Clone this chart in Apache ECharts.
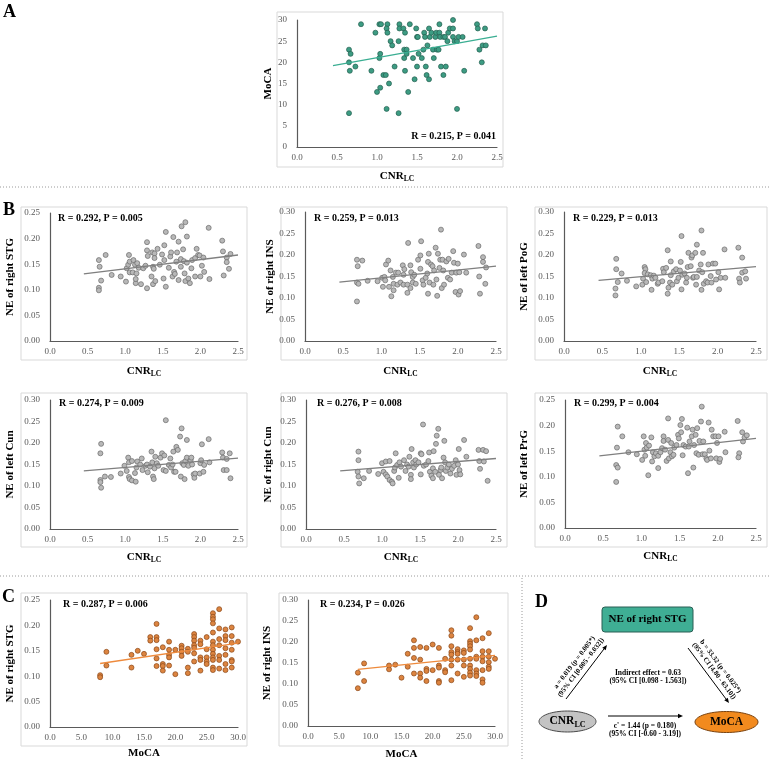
<!DOCTYPE html>
<html>
<head>
<meta charset="utf-8">
<script src="https://cdn.jsdelivr.net/npm/echarts@6/dist/echarts.min.js"></script>
<style>
html, body { margin: 0; padding: 0; background: #fff; }
#chart { width: 770px; height: 761px; }
</style>
</head>
<body>
<div id="chart"></div>
<script>
// ---- data ----
// A: CNR_LC vs MoCA
const ptsA = [[0.65,23],[0.67,22],[0.65,20],[0.66,18],[0.73,19],[0.65,8],[0.80,29],[0.93,18],[0.98,27],[1.00,13],
  [1.04,14],[1.03,29],[1.05,29],[1.03,21],[1.04,22],[1.08,17],[1.11,17],[1.12,9],[1.13,29],[1.12,28],
  [1.13,27],[1.15,15],[1.17,25],[1.19,24],[1.22,19],[1.27,25],[1.28,29],[1.28,28],[1.27,8],[1.33,28],
  [1.35,27],[1.34,21],[1.35,18],[1.34,23],[1.37,23],[1.37,22],[1.39,13],[1.41,29],[1.45,21],[1.47,16],
  [1.49,28],[1.50,26],[1.51,26],[1.52,22],[1.50,19],[1.56,21],[1.58,23],[1.59,27],[1.60,26],[1.61,19],
  [1.62,17],[1.63,24],[1.65,28],[1.65,16],[1.66,26],[1.68,27],[1.70,23],[1.71,21],[1.73,26],[1.74,27],
  [1.75,23],[1.77,23],[1.78,29],[1.78,27],[1.79,26],[1.80,19],[1.83,17],[1.83,26],[1.85,26],[1.86,19],
  [1.88,25],[1.89,27],[1.91,28],[1.95,28],[1.95,30],[1.95,26],[1.97,25],[2.00,25],[2.00,9],[2.02,26],
  [2.07,26],[2.09,18],[2.25,29],[2.26,28],[2.28,23],[2.31,20],[2.32,24],[2.35,28],[2.36,24]];
const trendA = [[0.45,19.2],[2.5,26.2]];

// B: CNR_LC vs network entropy
const ptsRightSTG = [[0.65,0.158],[0.66,0.145],[0.65,0.104],[0.65,0.099],[0.68,0.118],[0.74,0.168],[0.82,0.129],[0.94,0.126],[1.01,0.116],[1.02,0.142],
  [1.04,0.149],[1.05,0.168],[1.06,0.155],[1.06,0.134],[1.10,0.134],[1.11,0.158],[1.13,0.149],[1.14,0.113],[1.14,0.121],[1.15,0.132],
  [1.16,0.152],[1.18,0.143],[1.21,0.111],[1.24,0.142],[1.27,0.147],[1.29,0.103],[1.29,0.193],[1.29,0.177],[1.30,0.166],[1.35,0.126],
  [1.36,0.173],[1.37,0.145],[1.37,0.111],[1.38,0.141],[1.39,0.171],[1.39,0.162],[1.40,0.117],[1.43,0.180],[1.46,0.149],[1.49,0.169],
  [1.51,0.122],[1.52,0.187],[1.52,0.158],[1.54,0.213],[1.54,0.106],[1.58,0.143],[1.60,0.165],[1.61,0.173],[1.63,0.126],[1.64,0.203],
  [1.65,0.135],[1.66,0.131],[1.68,0.155],[1.69,0.173],[1.71,0.194],[1.71,0.119],[1.74,0.160],[1.74,0.145],[1.75,0.224],[1.77,0.179],
  [1.78,0.156],[1.79,0.132],[1.80,0.232],[1.80,0.117],[1.82,0.204],[1.82,0.153],[1.84,0.122],[1.86,0.113],[1.88,0.142],[1.89,0.158],
  [1.93,0.126],[1.93,0.162],[1.95,0.180],[1.97,0.168],[1.99,0.167],[2.00,0.126],[2.02,0.147],[2.04,0.163],[2.05,0.135],[2.11,0.221],
  [2.12,0.121],[2.29,0.196],[2.30,0.175],[2.31,0.128],[2.35,0.163],[2.35,0.154],[2.38,0.141],[2.40,0.170]];
const ptsRightINS = [[0.68,0.189],[0.69,0.174],[0.68,0.136],[0.70,0.133],[0.68,0.092],[0.75,0.187],[0.82,0.140],[0.95,0.139],[1.01,0.147],[1.02,0.126],
  [1.04,0.149],[1.05,0.141],[1.06,0.178],[1.09,0.187],[1.10,0.126],[1.12,0.164],[1.13,0.104],[1.15,0.149],[1.16,0.133],[1.16,0.118],
  [1.19,0.159],[1.21,0.131],[1.22,0.159],[1.25,0.136],[1.28,0.176],[1.29,0.154],[1.29,0.131],[1.30,0.167],[1.34,0.131],[1.34,0.112],
  [1.35,0.228],[1.38,0.123],[1.38,0.176],[1.39,0.160],[1.41,0.149],[1.41,0.136],[1.43,0.154],[1.45,0.133],[1.48,0.189],[1.51,0.168],
  [1.51,0.199],[1.52,0.232],[1.54,0.141],[1.55,0.131],[1.58,0.147],[1.60,0.157],[1.61,0.110],[1.61,0.184],[1.62,0.203],[1.63,0.136],
  [1.65,0.178],[1.67,0.174],[1.68,0.131],[1.69,0.164],[1.71,0.217],[1.72,0.143],[1.73,0.105],[1.74,0.203],[1.76,0.170],[1.77,0.189],
  [1.78,0.259],[1.79,0.123],[1.80,0.189],[1.81,0.164],[1.82,0.131],[1.85,0.185],[1.87,0.147],[1.88,0.191],[1.90,0.143],[1.92,0.159],
  [1.94,0.209],[1.95,0.182],[1.97,0.114],[1.98,0.159],[2.00,0.180],[2.01,0.108],[2.02,0.160],[2.03,0.116],[2.08,0.201],[2.11,0.159],
  [2.27,0.221],[2.28,0.150],[2.29,0.110],[2.33,0.195],[2.33,0.184],[2.37,0.171],[2.36,0.133]];
const ptsLeftPoG = [[0.68,0.191],[0.68,0.167],[0.67,0.122],[0.67,0.106],[0.70,0.137],[0.75,0.157],[0.82,0.140],[0.94,0.127],[1.02,0.131],[1.03,0.145],
  [1.05,0.172],[1.06,0.167],[1.05,0.158],[1.07,0.137],[1.09,0.155],[1.13,0.153],[1.14,0.119],[1.15,0.145],[1.17,0.152],[1.19,0.147],
  [1.22,0.133],[1.23,0.136],[1.28,0.139],[1.29,0.168],[1.30,0.160],[1.33,0.170],[1.35,0.110],[1.35,0.211],[1.36,0.124],[1.38,0.136],
  [1.39,0.185],[1.39,0.153],[1.41,0.131],[1.43,0.162],[1.46,0.167],[1.47,0.139],[1.49,0.147],[1.51,0.164],[1.52,0.184],[1.53,0.244],
  [1.53,0.120],[1.54,0.154],[1.57,0.157],[1.59,0.136],[1.60,0.147],[1.61,0.172],[1.62,0.205],[1.65,0.174],[1.66,0.194],[1.67,0.199],
  [1.68,0.147],[1.69,0.149],[1.71,0.205],[1.72,0.131],[1.73,0.224],[1.73,0.149],[1.76,0.164],[1.78,0.178],[1.79,0.257],[1.79,0.119],
  [1.80,0.160],[1.81,0.205],[1.82,0.133],[1.85,0.139],[1.87,0.136],[1.88,0.178],[1.91,0.151],[1.92,0.136],[1.94,0.180],[1.97,0.180],
  [1.98,0.143],[2.01,0.160],[2.02,0.120],[2.04,0.147],[2.09,0.213],[2.10,0.147],[2.27,0.217],[2.28,0.145],[2.29,0.136],[2.32,0.194],
  [2.32,0.159],[2.36,0.162],[2.37,0.145]];
const ptsLeftCun = [[0.68,0.198],[0.67,0.176],[0.67,0.114],[0.67,0.109],[0.68,0.096],[0.73,0.122],[0.81,0.121],[0.94,0.129],[0.99,0.147],[1.02,0.135],
  [1.04,0.166],[1.05,0.155],[1.05,0.121],[1.06,0.116],[1.09,0.158],[1.09,0.113],[1.13,0.130],[1.14,0.110],[1.15,0.143],[1.16,0.157],
  [1.20,0.150],[1.22,0.164],[1.23,0.137],[1.27,0.147],[1.29,0.150],[1.30,0.132],[1.33,0.145],[1.35,0.180],[1.36,0.155],[1.37,0.122],
  [1.38,0.116],[1.39,0.141],[1.40,0.168],[1.42,0.153],[1.44,0.147],[1.47,0.166],[1.49,0.176],[1.51,0.137],[1.52,0.171],[1.54,0.253],
  [1.54,0.135],[1.58,0.149],[1.60,0.164],[1.61,0.143],[1.63,0.150],[1.64,0.180],[1.65,0.133],[1.67,0.133],[1.68,0.191],[1.70,0.184],
  [1.73,0.215],[1.74,0.122],[1.75,0.234],[1.76,0.153],[1.78,0.149],[1.79,0.116],[1.80,0.158],[1.82,0.207],[1.82,0.166],[1.84,0.147],
  [1.87,0.160],[1.88,0.166],[1.89,0.150],[1.91,0.127],[1.92,0.119],[1.93,0.129],[1.99,0.129],[2.00,0.153],[2.01,0.160],[2.02,0.197],
  [2.04,0.133],[2.05,0.149],[2.11,0.209],[2.12,0.155],[2.29,0.178],[2.30,0.166],[2.31,0.137],[2.35,0.137],[2.35,0.163],[2.39,0.176],
  [2.40,0.118]];
const ptsRightCun = [[0.69,0.180],[0.69,0.160],[0.68,0.133],[0.69,0.122],[0.70,0.106],[0.76,0.118],[0.83,0.135],[0.95,0.128],[1.00,0.153],[1.02,0.133],
  [1.05,0.157],[1.05,0.127],[1.07,0.122],[1.10,0.158],[1.10,0.114],[1.13,0.110],[1.14,0.106],[1.16,0.135],[1.17,0.143],[1.18,0.176],
  [1.20,0.149],[1.22,0.119],[1.23,0.155],[1.25,0.145],[1.29,0.160],[1.31,0.135],[1.33,0.150],[1.35,0.145],[1.36,0.168],[1.38,0.126],
  [1.38,0.116],[1.39,0.186],[1.41,0.155],[1.42,0.143],[1.44,0.160],[1.45,0.150],[1.48,0.155],[1.51,0.176],[1.51,0.127],[1.52,0.174],
  [1.54,0.243],[1.55,0.147],[1.58,0.150],[1.61,0.158],[1.62,0.178],[1.63,0.133],[1.65,0.124],[1.67,0.141],[1.67,0.118],[1.68,0.181],
  [1.70,0.133],[1.71,0.198],[1.72,0.217],[1.74,0.233],[1.75,0.126],[1.77,0.137],[1.78,0.143],[1.79,0.118],[1.81,0.166],[1.82,0.205],
  [1.83,0.155],[1.84,0.135],[1.86,0.143],[1.88,0.150],[1.90,0.129],[1.92,0.140],[1.95,0.147],[1.97,0.160],[1.98,0.126],[2.00,0.150],
  [2.01,0.186],[2.02,0.137],[2.03,0.127],[2.08,0.207],[2.11,0.168],[2.27,0.184],[2.28,0.158],[2.29,0.140],[2.33,0.184],[2.34,0.157],
  [2.37,0.181],[2.39,0.112]];
const ptsLeftPrG = [[0.69,0.198],[0.68,0.157],[0.67,0.123],[0.69,0.118],[0.67,0.090],[0.75,0.179],[0.83,0.148],[0.94,0.144],[1.01,0.133],[1.03,0.179],
  [1.04,0.153],[1.05,0.141],[1.06,0.166],[1.07,0.157],[1.09,0.103],[1.10,0.161],[1.13,0.177],[1.14,0.130],[1.15,0.148],[1.17,0.140],
  [1.19,0.146],[1.22,0.117],[1.22,0.141],[1.25,0.148],[1.27,0.156],[1.29,0.179],[1.29,0.170],[1.31,0.153],[1.33,0.131],[1.35,0.172],
  [1.35,0.214],[1.36,0.136],[1.38,0.148],[1.39,0.166],[1.40,0.140],[1.42,0.143],[1.43,0.157],[1.46,0.162],[1.48,0.182],[1.49,0.175],
  [1.51,0.201],[1.52,0.187],[1.53,0.213],[1.54,0.142],[1.55,0.162],[1.58,0.159],[1.60,0.196],[1.61,0.107],[1.62,0.159],[1.63,0.169],
  [1.66,0.179],[1.67,0.192],[1.68,0.118],[1.69,0.162],[1.71,0.182],[1.72,0.146],[1.73,0.195],[1.75,0.143],[1.76,0.170],[1.78,0.208],
  [1.79,0.237],[1.80,0.144],[1.81,0.169],[1.83,0.144],[1.85,0.136],[1.86,0.133],[1.88,0.206],[1.89,0.151],[1.91,0.136],[1.92,0.192],
  [1.94,0.179],[1.97,0.179],[1.98,0.136],[1.99,0.166],[2.01,0.179],[2.02,0.129],[2.03,0.135],[2.09,0.188],[2.10,0.148],[2.26,0.209],
  [2.28,0.146],[2.27,0.138],[2.32,0.187],[2.33,0.169],[2.35,0.177],[2.38,0.181]];
const trendRightSTG = [[0.45,0.131],[2.5,0.168]];
const trendRightINS = [[0.45,0.137],[2.5,0.174]];
const trendLeftPoG = [[0.45,0.141],[2.5,0.173]];
const trendLeftCun = [[0.45,0.135],[2.5,0.165]];
const trendRightCun = [[0.45,0.135],[2.5,0.164]];
const trendLeftPrG = [[0.45,0.141],[2.5,0.175]];

// C: MoCA vs network entropy
const ptsMocaSTG = [[8,0.102],[8,0.098],[9,0.148],[9,0.121],[13,0.142],[13,0.117],[14,0.150],[15,0.144],[16,0.177],[16,0.170],
  [17,0.203],[17,0.177],[17,0.171],[17,0.153],[17,0.135],[17,0.120],[18,0.157],[18,0.124],[18,0.120],[18,0.111],
  [19,0.168],[19,0.152],[19,0.142],[19,0.137],[19,0.121],[20,0.152],[20,0.104],[21,0.160],[21,0.155],[21,0.148],
  [21,0.140],[22,0.154],[22,0.148],[22,0.117],[22,0.106],[23,0.183],[23,0.177],[23,0.170],[23,0.161],[23,0.156],
  [23,0.145],[23,0.129],[24,0.170],[24,0.163],[24,0.137],[24,0.132],[24,0.111],[25,0.177],[25,0.153],[25,0.137],
  [25,0.129],[25,0.124],[26,0.224],[26,0.217],[26,0.212],[26,0.204],[26,0.186],[26,0.168],[26,0.161],[26,0.152],
  [26,0.144],[26,0.137],[26,0.132],[26,0.117],[26,0.112],[27,0.232],[27,0.194],[27,0.173],[27,0.161],[27,0.140],
  [27,0.132],[27,0.115],[28,0.192],[28,0.179],[28,0.171],[28,0.155],[28,0.142],[28,0.124],[28,0.112],[29,0.196],
  [29,0.179],[29,0.166],[29,0.152],[29,0.132],[29,0.129],[29,0.117],[30,0.168]];
const ptsMocaINS = [[8,0.127],[8,0.090],[9,0.149],[9,0.107],[13,0.144],[13,0.135],[14,0.146],[15,0.115],[16,0.172],[16,0.141],
  [17,0.204],[17,0.186],[17,0.162],[17,0.125],[18,0.188],[18,0.158],[18,0.125],[18,0.115],[19,0.186],[19,0.136],
  [19,0.131],[19,0.107],[20,0.194],[20,0.133],[21,0.186],[21,0.144],[21,0.139],[21,0.107],[21,0.103],[22,0.160],
  [22,0.133],[22,0.128],[23,0.228],[23,0.215],[23,0.190],[23,0.176],[23,0.170],[23,0.158],[23,0.144],[23,0.109],
  [24,0.183],[24,0.176],[24,0.172],[24,0.158],[24,0.125],[25,0.180],[25,0.174],[25,0.158],[25,0.144],[25,0.117],
  [26,0.233],[26,0.202],[26,0.196],[26,0.190],[26,0.182],[26,0.160],[26,0.144],[26,0.136],[26,0.127],[26,0.120],
  [27,0.259],[27,0.204],[27,0.165],[27,0.160],[27,0.133],[27,0.125],[27,0.119],[28,0.209],[28,0.178],[28,0.165],
  [28,0.154],[28,0.133],[28,0.111],[28,0.103],[29,0.221],[29,0.178],[29,0.165],[29,0.152],[29,0.141],[29,0.136],[30,0.160]];
const trendMocaSTG = [[8,0.125],[30,0.165]];
const trendMocaINS = [[8,0.135],[30,0.168]];

const rpTexts = ['R = 0.215, P = 0.041', 'R = 0.292, P = 0.005', 'R = 0.259, P = 0.013', 'R = 0.229, P = 0.013',
  'R = 0.274, P = 0.009', 'R = 0.276, P = 0.008', 'R = 0.299, P = 0.004', 'R = 0.287, P = 0.006', 'R = 0.234, P = 0.026'];
const yTitles = ['MoCA', 'NE of right STG', 'NE of right INS', 'NE of left PoG', 'NE of left Cun',
  'NE of right Cun', 'NE of left PrG', 'NE of right STG', 'NE of right INS'];

// ---- style ----
const FONT = 'Liberation Serif';
const colors = {
  teal: { fill: '#3d9c83', border: '#245f4f', line: '#3aae92' },
  gray: { fill: '#b8b8b8', border: '#6a6a6a', line: '#7f7f7f' },
  orange: { fill: '#dc8440', border: '#8a4818', line: '#ee8a3c' }
};

// grid = [left, top, width, height], box = frame around each chart
const panels = [
  { pts: ptsA, trend: trendA, yMax: 30, yInt: 5, yDec: 0, xMax: 2.5, xInt: 0.5, xName: 'cnr', c: 'teal',
    grid: [297, 20, 200, 127], box: [277, 12, 226, 155], yGap: 22, xGap: 22, rp: [496, 136, 'right'] },
  { pts: ptsRightSTG, trend: trendRightSTG, yMax: 0.25, yInt: 0.05, yDec: 2, xMax: 2.5, xInt: 0.5, xName: 'cnr', c: 'gray',
    grid: [50, 213, 188, 128], box: [21, 207, 226, 153], yGap: 34, xGap: 23, rp: [58, 218, 'left'] },
  { pts: ptsRightINS, trend: trendRightINS, yMax: 0.30, yInt: 0.05, yDec: 2, xMax: 2.5, xInt: 0.5, xName: 'cnr', c: 'gray',
    grid: [305, 212, 191, 129], box: [281, 207, 226, 153], yGap: 29, xGap: 23, rp: [314, 218, 'left'] },
  { pts: ptsLeftPoG, trend: trendLeftPoG, yMax: 0.30, yInt: 0.05, yDec: 2, xMax: 2.5, xInt: 0.5, xName: 'cnr', c: 'gray',
    grid: [564, 212, 192, 129], box: [535, 207, 232, 153], yGap: 34, xGap: 23, rp: [573, 218, 'left'] },
  { pts: ptsLeftCun, trend: trendLeftCun, yMax: 0.30, yInt: 0.05, yDec: 2, xMax: 2.5, xInt: 0.5, xName: 'cnr', c: 'gray',
    grid: [50, 400, 188, 129], box: [21, 393, 226, 154], yGap: 34, xGap: 21, rp: [59, 403, 'left'] },
  { pts: ptsRightCun, trend: trendRightCun, yMax: 0.30, yInt: 0.05, yDec: 2, xMax: 2.5, xInt: 0.5, xName: 'cnr', c: 'gray',
    grid: [306, 400, 190, 129], box: [281, 393, 226, 154], yGap: 32, xGap: 21, rp: [317, 403, 'left'] },
  { pts: ptsLeftPrG, trend: trendLeftPrG, yMax: 0.25, yInt: 0.05, yDec: 2, xMax: 2.5, xInt: 0.5, xName: 'cnr', c: 'gray',
    grid: [565, 400, 191, 128], box: [535, 393, 232, 154], yGap: 35, xGap: 21, rp: [574, 403, 'left'] },
  { pts: ptsMocaSTG, trend: trendMocaSTG, yMax: 0.25, yInt: 0.05, yDec: 2, xMax: 30, xInt: 5, xName: 'MoCA', c: 'orange',
    grid: [50, 600, 188, 127], box: [21, 593, 226, 153], yGap: 34, xGap: 21, rp: [63, 604, 'left'] },
  { pts: ptsMocaINS, trend: trendMocaINS, yMax: 0.30, yInt: 0.05, yDec: 2, xMax: 30, xInt: 5, xName: 'MoCA', c: 'orange',
    grid: [308, 600, 187, 127], box: [279, 593, 229, 153], yGap: 35, xGap: 23, rp: [320, 604, 'left'] }
];

const titleStyle = { fontFamily: FONT, fontWeight: 'bold', fontSize: 11, color: '#000' };
const cnrRich = {
  m: { fontFamily: FONT, fontWeight: 'bold', fontSize: 11, color: '#000' },
  s: { fontFamily: FONT, fontWeight: 'bold', fontSize: 7.5, color: '#000', padding: [6, 0, 0, 0] }
};
const axisLine = { show: true, lineStyle: { color: '#5a5a5a', width: 1.2 } };
const tickLabel = { fontFamily: FONT, fontSize: 9, color: '#595959' };

const grid = [], xAxis = [], yAxis = [], series = [], graphic = [];

panels.forEach((p, i) => {
  grid.push({ left: p.grid[0], top: p.grid[1], width: p.grid[2], height: p.grid[3] });
  xAxis.push({
    type: 'value', gridIndex: i, min: 0, max: p.xMax, interval: p.xInt,
    axisLine, axisTick: { show: false }, splitLine: { show: false },
    axisLabel: Object.assign({ margin: 6, formatter: v => v.toFixed(1) }, tickLabel),
    name: p.xName === 'cnr' ? '{m|CNR}{s|LC}' : p.xName, nameLocation: 'middle', nameGap: p.xGap,
    nameTextStyle: Object.assign({ rich: cnrRich }, titleStyle)
  });
  yAxis.push({
    type: 'value', gridIndex: i, min: 0, max: p.yMax, interval: p.yInt,
    axisLine, axisTick: { show: false }, splitLine: { show: false },
    axisLabel: Object.assign({ margin: 10, formatter: v => v.toFixed(p.yDec) }, tickLabel),
    name: yTitles[i], nameLocation: 'middle', nameGap: p.yGap, nameTextStyle: titleStyle
  });
  const col = colors[p.c];
  series.push({
    type: 'scatter', xAxisIndex: i, yAxisIndex: i, data: p.pts, symbolSize: 5, z: 3,
    itemStyle: { color: col.fill, borderColor: col.border, borderWidth: 0.7, opacity: 1 }
  });
  series.push({
    type: 'line', xAxisIndex: i, yAxisIndex: i, data: p.trend, showSymbol: false, z: 4,
    lineStyle: { color: col.line, width: 1.3 }, silent: true
  });
  graphic.push({
    type: 'rect', shape: { x: p.box[0], y: p.box[1], width: p.box[2], height: p.box[3] },
    style: { fill: 'none', stroke: '#d9d9d9', lineWidth: 1 }, z: -1
  });
  graphic.push({
    type: 'text', x: p.rp[0], y: p.rp[1],
    style: { text: rpTexts[i], align: p.rp[2], verticalAlign: 'middle', fontFamily: FONT, fontWeight: 'bold', fontSize: 10, fill: '#000' }
  });
});

// panel letters
[['A', 3, 3], ['B', 3, 201], ['C', 2, 588], ['D', 535, 593]].forEach(l => {
  graphic.push({ type: 'text', x: l[1], y: l[2], style: { text: l[0], fontFamily: FONT, fontWeight: 'bold', fontSize: 18, fill: '#000' } });
});

// dotted separators
const sep = { stroke: '#9a9a9a', lineWidth: 1, lineDash: [1, 2] };
graphic.push({ type: 'line', shape: { x1: 0, y1: 187, x2: 770, y2: 187 }, style: sep });
graphic.push({ type: 'line', shape: { x1: 0, y1: 576, x2: 770, y2: 576 }, style: sep });
graphic.push({ type: 'line', shape: { x1: 522, y1: 578, x2: 522, y2: 761 }, style: sep });

// ---- panel D: mediation diagram ----
function arrow(x1, y1, x2, y2) {
  const a = Math.atan2(y2 - y1, x2 - x1), L = 5, W = 2.2;
  const bx = x2 - L * Math.cos(a), by = y2 - L * Math.sin(a);
  return [
    { type: 'line', shape: { x1, y1, x2: bx, y2: by }, style: { stroke: '#000', lineWidth: 1 } },
    { type: 'polygon', shape: { points: [[x2, y2], [bx + W * Math.sin(a), by - W * Math.cos(a)], [bx - W * Math.sin(a), by + W * Math.cos(a)]] }, style: { fill: '#000' } }
  ];
}
function dText(text, x, y, size, rot) {
  return { type: 'text', x, y, rotation: rot || 0,
    style: { text, align: 'center', verticalAlign: 'middle', fontFamily: FONT, fontWeight: 'bold', fontSize: size, fill: '#000' } };
}

graphic.push({ type: 'rect', shape: { x: 602, y: 607, width: 91, height: 25, r: 3 }, style: { fill: '#3fae94', stroke: '#2b5f55', lineWidth: 1 } });
graphic.push(dText('NE of right STG', 647.5, 619.5, 11));
graphic.push({ type: 'ellipse', shape: { cx: 567.5, cy: 721.5, rx: 28.5, ry: 10.5 }, style: { fill: '#c3c3c3', stroke: '#4a4a4a', lineWidth: 1 } });
graphic.push({ type: 'text', x: 567.5, y: 721.5,
  style: { text: '{m|CNR}{s|LC}', align: 'center', verticalAlign: 'middle', rich: {
    m: { fontFamily: FONT, fontWeight: 'bold', fontSize: 11.5, fill: '#000' },
    s: { fontFamily: FONT, fontWeight: 'bold', fontSize: 8, fill: '#000', padding: [6, 0, 0, 0] } } } });
graphic.push({ type: 'ellipse', shape: { cx: 726.5, cy: 722, rx: 31.5, ry: 10.5 }, style: { fill: '#f28a1e', stroke: '#7a4310', lineWidth: 1 } });
graphic.push(dText('MoCA', 726.5, 722, 11.5));

arrow(566, 699, 607, 645).forEach(g => graphic.push(g));
arrow(688, 648, 729, 703).forEach(g => graphic.push(g));
arrow(608, 716, 683, 716).forEach(g => graphic.push(g));

const rotA = Math.atan2(54, 41), rotB = -Math.atan2(55, 41);
graphic.push(dText('a = 0.019 (p = 0.005*)', 574.5, 662.5, 7, rotA));
graphic.push(dText('(95% CI [0.005 - 0.032])', 581, 667.5, 7, rotA));
graphic.push(dText('b = 33.32 (p = 0.025*)', 720.5, 666.5, 7, rotB));
graphic.push(dText('(95% CI [4.80 - 63.10])', 714, 671, 7, rotB));
graphic.push(dText('Indirect effect = 0.63', 648, 673, 7.5));
graphic.push(dText('(95% CI [0.098 - 1.563])', 648, 681.5, 7.5));
graphic.push(dText("c' = 1.44 (p = 0.180)", 645, 726.5, 7.5));
graphic.push(dText('(95% CI [-0.60 - 3.19])', 645, 734.5, 7.5));

const chart = echarts.init(document.getElementById('chart'));
chart.setOption({
  backgroundColor: '#fff',
  animation: false,
  grid, xAxis, yAxis, series, graphic
});
</script>
</body>
</html>
